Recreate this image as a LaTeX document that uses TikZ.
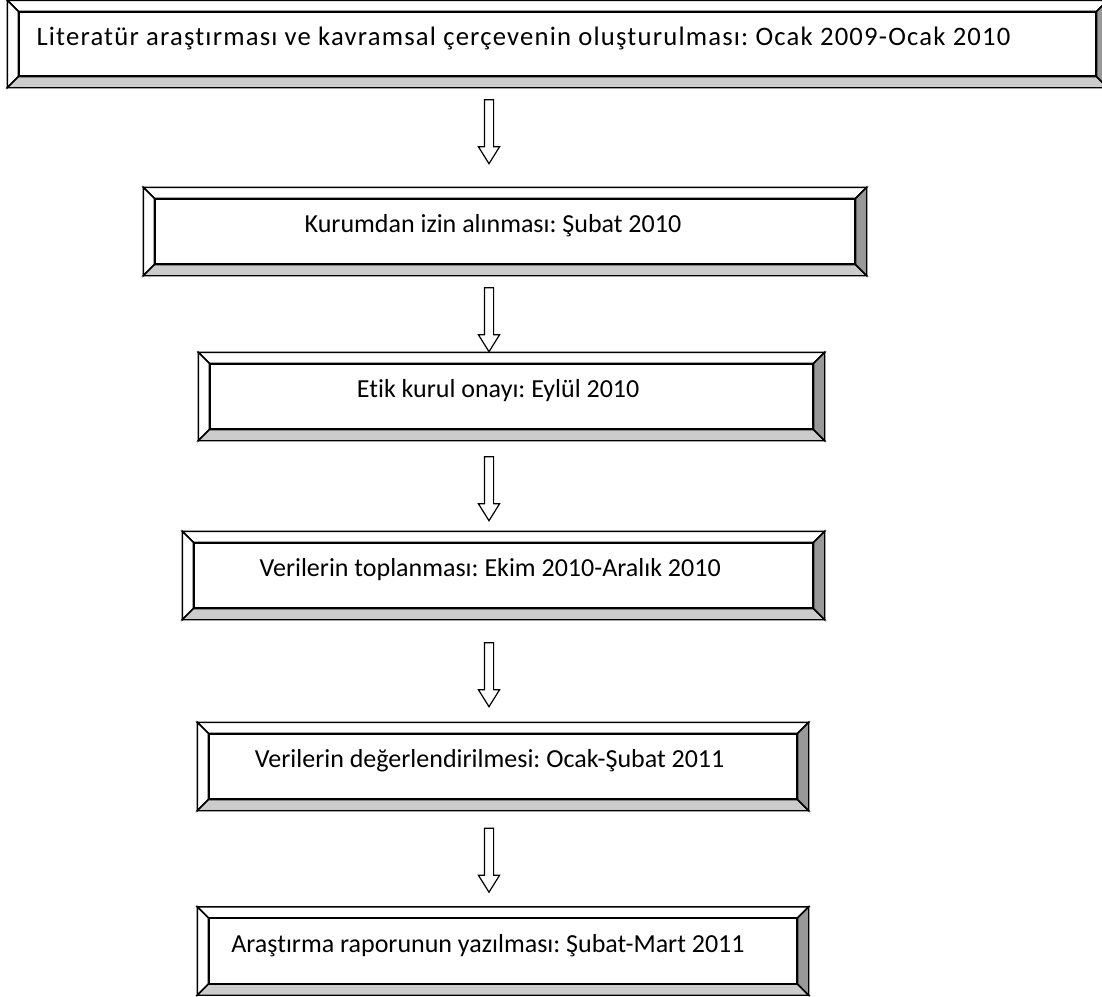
\documentclass[tikz,border=0pt]{standalone}
\usepackage{fontspec}
\setmainfont{Carlito}[Ligatures=NoCommon]
\newfontfamily\genis{Carlito}[Ligatures=NoCommon,LetterSpace=4.5]
\usetikzlibrary{shapes.arrows}
\definecolor{bevellight}{HTML}{CCCCCC}
\definecolor{beveldark}{HTML}{999999}
\tikzset{
kutu/.style={draw,line width=1.1pt,fill=white,minimum height=48.75pt,inner sep=0pt},
kyazi/.style={inner sep=0pt,text height=2pt,text depth=0pt,
 font=\fontsize{19.5}{23}\selectfont\frenchspacing},
bevelline/.style={line width=1.1pt,line join=miter},
okblok/.style={draw,line width=0.9pt,single arrow,rotate=-90,inner sep=3pt,
 minimum height=48pt,single arrow head extend=4.5pt,single arrow tip angle=64}
}
\newcommand{\bevelit}[1]{%
\coordinate (#1-nw) at ([shift={(-8.25pt,8.25pt)}]#1.north west);
\coordinate (#1-ne) at ([shift={(8.25pt,8.25pt)}]#1.north east);
\coordinate (#1-se) at ([shift={(8.25pt,-8.25pt)}]#1.south east);
\coordinate (#1-sw) at ([shift={(-8.25pt,-8.25pt)}]#1.south west);
\draw[bevelline,fill=white] (#1-nw) -- (#1-ne) -- (#1.north east) -- (#1.north west) -- cycle;
\draw[bevelline,fill=white] (#1-nw) -- (#1.north west) -- (#1.south west) -- (#1-sw) -- cycle;
\draw[bevelline,fill=bevellight] (#1-sw) -- (#1.south west) -- (#1.south east) -- (#1-se) -- cycle;
\draw[bevelline,fill=beveldark] (#1-ne) -- (#1-se) -- (#1.south east) -- (#1.north east) -- cycle;
}

\begin{document}
\begin{tikzpicture}[x=0.75pt,y=-0.75pt]
\useasboundingbox (0,0) rectangle (1102,996);
\node[kutu,minimum width=807.75pt,minimum height=48pt,
 label={[kyazi,anchor=west,xshift=13.5pt,font=\genis\fontsize{20}{24}\selectfont\frenchspacing]west:{Literatür araştırması ve kavramsal çerçevenin oluşturulması: Ocak 2009-Ocak 2010}}]
 (lit) at (557.5,44) {};
\node[kutu,minimum width=525pt,
 label={[kyazi,xshift=-9pt]center:{Kurumdan izin alınması: Şubat 2010}}] (kurum) at (505,231.5) {};
\node[kutu,minimum width=452.25pt,
 label={[kyazi,xshift=-10pt]center:{Etik kurul onayı: Eylül 2010}}] (etik) at (511.5,396.5) {};
\node[kutu,minimum width=464.25pt,
 label={[kyazi,xshift=-10pt]center:{Verilerin toplanması: Ekim 2010-Aralık 2010}}] (toplama) at (503.5,575.5) {};
\node[kutu,minimum width=441pt,
 label={[kyazi,xshift=-10pt]center:{Verilerin değerlendirilmesi: Ocak-Şubat 2011}}] (deger) at (503,766.5) {};
\node[kutu,minimum width=441pt,
 label={[kyazi,xshift=-11.25pt]center:{Araştırma raporunun yazılması: Şubat-Mart 2011}}] (rapor) at (503,951) {};
\bevelit{lit}\bevelit{kurum}\bevelit{etik}
\bevelit{toplama}\bevelit{deger}\bevelit{rapor}
\node[okblok] (a1) at (489,128) {};
\node[okblok] (a2) at (489,316) {};
\node[okblok] (a3) at (489,485) {};
\node[okblok] (a4) at (489,671) {};
\node[okblok] (a5) at (489,856.5) {};
\end{tikzpicture}
\end{document}
